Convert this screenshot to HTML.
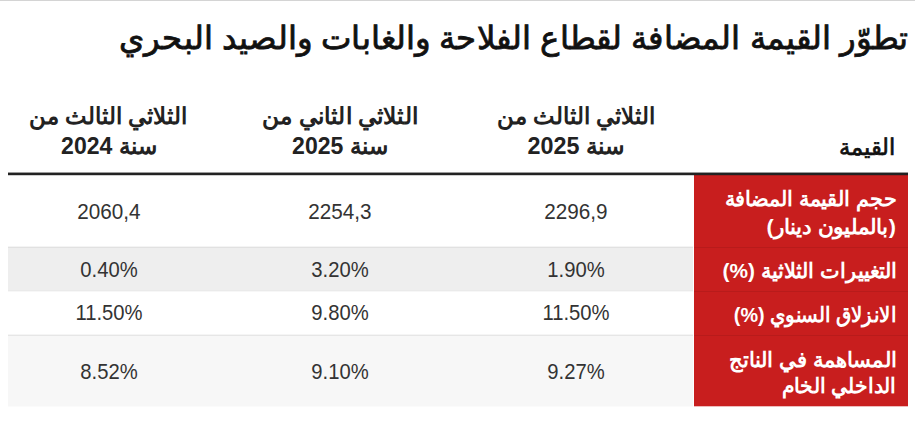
<!DOCTYPE html>
<html lang="ar"><head><meta charset="utf-8"><title>table</title>
<style>
html,body{margin:0;padding:0;background:#fff;}
body{width:915px;height:426px;overflow:hidden;position:relative;font-family:'Liberation Sans',sans-serif;}
.t{position:absolute;white-space:nowrap;}
.b{position:absolute;}
</style></head><body>

<div class="b" style="left:0px;top:0px;width:915px;height:1px;background:#d4d4d4"></div>
<div class="b" style="left:8px;top:172px;width:900px;height:1px;background:rgba(34,34,34,0.45)"></div>
<div class="b" style="left:8px;top:173px;width:900px;height:2px;background:#222"></div>
<div class="b" style="left:694px;top:175px;width:214px;height:231px;background:#c81e1e"></div>
<div class="b" style="left:694px;top:406px;width:214px;height:1px;background:rgba(200,30,30,0.3)"></div>
<div class="b" style="left:8px;top:246px;width:685px;height:1px;background:rgba(0,0,0,0.045)"></div>
<div class="b" style="left:8px;top:247px;width:685px;height:44px;background:#eeeeee"></div>
<div class="b" style="left:8px;top:247px;width:685px;height:1px;background:rgba(0,0,0,0.05)"></div>
<div class="b" style="left:8px;top:290px;width:685px;height:1px;background:rgba(0,0,0,0.015)"></div>
<div class="b" style="left:8px;top:291px;width:685px;height:1px;background:rgba(0,0,0,0.03)"></div>
<div class="b" style="left:8px;top:334px;width:685px;height:1px;background:rgba(0,0,0,0.04)"></div>
<div class="b" style="left:8px;top:335px;width:685px;height:71px;background:#f7f7f7"></div>
<div class="b" style="left:8px;top:335px;width:685px;height:1px;background:rgba(0,0,0,0.065)"></div>
<div class="b" style="left:8px;top:406px;width:685px;height:1px;background:rgba(247,247,247,0.5)"></div>
<div class="b" style="left:694px;top:247px;width:214px;height:1px;background:rgba(0,0,0,0.08)"></div>
<div class="b" style="left:694px;top:291px;width:214px;height:1px;background:rgba(0,0,0,0.08)"></div>
<div class="b" style="left:694px;top:335px;width:214px;height:1px;background:rgba(0,0,0,0.08)"></div>
<div class="b" style="left:8px;top:175px;width:900px;height:1px;background:rgba(34,34,34,0.22)"></div>
<div class="t" id="title" dir="rtl" style="top:22.01px;font-size:32px;line-height:32px;font-weight:400;color:#111;right:6.4px;text-align:right;transform-origin:100% 50%;transform:scaleX(1.0116);-webkit-text-stroke:0.8px #111;">تطوّر القيمة المضافة لقطاع الفلاحة والغابات والصيد البحري</div>
<div class="t" id="qima" dir="rtl" style="top:137.25px;font-size:22.5px;line-height:22.5px;font-weight:400;color:#111;right:19.8px;text-align:right;transform-origin:100% 50%;transform:scaleX(0.98);-webkit-text-stroke:0.7px #111;">القيمة</div>
<div class="t" id="h2l1" dir="rtl" style="top:104.53px;font-size:23px;line-height:23px;font-weight:700;color:#222;left:575.6px;width:400px;margin-left:-200px;text-align:center;transform-origin:50% 50%;transform:scaleX(0.9914);">الثلاثي الثالث من</div>
<div class="t" id="h2l2" dir="rtl" style="top:134.83px;font-size:23px;line-height:23px;font-weight:700;color:#222;left:575.8px;width:400px;margin-left:-200px;text-align:center;transform-origin:50% 50%;transform:scaleX(1.015);">سنة 2025</div>
<div class="t" id="h3l1" dir="rtl" style="top:104.53px;font-size:23px;line-height:23px;font-weight:700;color:#222;left:339.5px;width:400px;margin-left:-200px;text-align:center;transform-origin:50% 50%;transform:scaleX(1.0107);">الثلاثي الثاني من</div>
<div class="t" id="h3l2" dir="rtl" style="top:134.83px;font-size:23px;line-height:23px;font-weight:700;color:#222;left:340.0px;width:400px;margin-left:-200px;text-align:center;transform-origin:50% 50%;transform:scaleX(1.0022);">سنة 2025</div>
<div class="t" id="h4l1" dir="rtl" style="top:104.53px;font-size:23px;line-height:23px;font-weight:700;color:#222;left:108.0px;width:400px;margin-left:-200px;text-align:center;transform-origin:50% 50%;transform:scaleX(0.9914);">الثلاثي الثالث من</div>
<div class="t" id="h4l2" dir="rtl" style="top:134.83px;font-size:23px;line-height:23px;font-weight:700;color:#222;left:109.0px;width:400px;margin-left:-200px;text-align:center;transform-origin:50% 50%;transform:scaleX(1.0022);">سنة 2024</div>
<div class="t" id="r1l1" dir="rtl" style="top:188.22px;font-size:21px;line-height:21px;font-weight:700;color:#fff;right:18.4px;text-align:right;transform-origin:100% 50%;transform:scaleX(0.9913);">حجم القيمة المضافة</div>
<div class="t" id="r1l2" dir="rtl" style="top:215.62px;font-size:21px;line-height:21px;font-weight:700;color:#fff;right:18.7px;text-align:right;transform-origin:100% 50%;transform:scaleX(1.0286);">(بالمليون دينار)</div>
<div class="t" id="r2" dir="rtl" style="top:260.12px;font-size:21px;line-height:21px;font-weight:700;color:#fff;right:17.7px;text-align:right;transform-origin:100% 50%;transform:scaleX(0.9909);">التغييرات الثلاثية (%)</div>
<div class="t" id="r3" dir="rtl" style="top:304.12px;font-size:21px;line-height:21px;font-weight:700;color:#fff;right:18.7px;text-align:right;transform-origin:100% 50%;transform:scaleX(0.943);">الانزلاق السنوي (%)</div>
<div class="t" id="r4l1" dir="rtl" style="top:348.52px;font-size:21px;line-height:21px;font-weight:700;color:#fff;right:18.7px;text-align:right;transform-origin:100% 50%;transform:scaleX(1.0075);">المساهمة في الناتج</div>
<div class="t" id="r4l2" dir="rtl" style="top:375.32px;font-size:21px;line-height:21px;font-weight:700;color:#fff;right:18.7px;text-align:right;transform-origin:100% 50%;transform:scaleX(0.9669);">الداخلي الخام</div>
<div class="t" id="d11" dir="rtl" style="top:200.88px;font-size:22px;line-height:22px;font-weight:400;color:#333;left:575.6px;width:400px;margin-left:-200px;text-align:center;transform-origin:50% 50%;transform:scaleX(0.94);">2296,9</div>
<div class="t" id="d12" dir="rtl" style="top:200.88px;font-size:22px;line-height:22px;font-weight:400;color:#333;left:340px;width:400px;margin-left:-200px;text-align:center;transform-origin:50% 50%;transform:scaleX(0.94);">2254,3</div>
<div class="t" id="d13" dir="rtl" style="top:200.88px;font-size:22px;line-height:22px;font-weight:400;color:#333;left:109.2px;width:400px;margin-left:-200px;text-align:center;transform-origin:50% 50%;transform:scaleX(0.94);">2060,4</div>
<div class="t" id="d21" dir="rtl" style="top:258.58px;font-size:22px;line-height:22px;font-weight:400;color:#333;left:576px;width:400px;margin-left:-200px;text-align:center;transform-origin:50% 50%;transform:scaleX(0.92);">1.90%</div>
<div class="t" id="d22" dir="rtl" style="top:258.58px;font-size:22px;line-height:22px;font-weight:400;color:#333;left:340px;width:400px;margin-left:-200px;text-align:center;transform-origin:50% 50%;transform:scaleX(0.92);">3.20%</div>
<div class="t" id="d23" dir="rtl" style="top:258.58px;font-size:22px;line-height:22px;font-weight:400;color:#333;left:109.2px;width:400px;margin-left:-200px;text-align:center;transform-origin:50% 50%;transform:scaleX(0.92);">0.40%</div>
<div class="t" id="d31" dir="rtl" style="top:302.38px;font-size:22px;line-height:22px;font-weight:400;color:#333;left:576px;width:400px;margin-left:-200px;text-align:center;transform-origin:50% 50%;transform:scaleX(0.92);">11.50%</div>
<div class="t" id="d32" dir="rtl" style="top:302.38px;font-size:22px;line-height:22px;font-weight:400;color:#333;left:340px;width:400px;margin-left:-200px;text-align:center;transform-origin:50% 50%;transform:scaleX(0.92);">9.80%</div>
<div class="t" id="d33" dir="rtl" style="top:302.38px;font-size:22px;line-height:22px;font-weight:400;color:#333;left:109.2px;width:400px;margin-left:-200px;text-align:center;transform-origin:50% 50%;transform:scaleX(0.92);">11.50%</div>
<div class="t" id="d41" dir="rtl" style="top:360.58px;font-size:22px;line-height:22px;font-weight:400;color:#333;left:575.7px;width:400px;margin-left:-200px;text-align:center;transform-origin:50% 50%;transform:scaleX(0.92);">9.27%</div>
<div class="t" id="d42" dir="rtl" style="top:360.58px;font-size:22px;line-height:22px;font-weight:400;color:#333;left:340px;width:400px;margin-left:-200px;text-align:center;transform-origin:50% 50%;transform:scaleX(0.92);">9.10%</div>
<div class="t" id="d43" dir="rtl" style="top:360.58px;font-size:22px;line-height:22px;font-weight:400;color:#333;left:109.2px;width:400px;margin-left:-200px;text-align:center;transform-origin:50% 50%;transform:scaleX(0.92);">8.52%</div>
</body></html>
